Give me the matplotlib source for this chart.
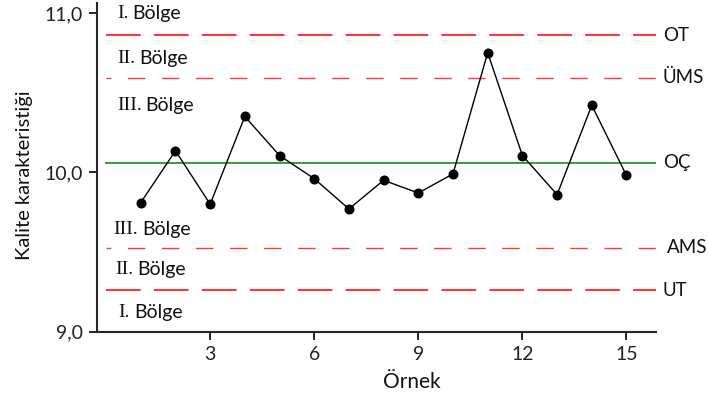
import matplotlib
matplotlib.use("Agg")
import matplotlib.pyplot as plt

plt.rcParams['lines.scale_dashes'] = False

# Sample measurements
samples = list(range(1, 16))
values = [9.81, 10.135, 9.80, 10.35, 10.105, 9.96, 9.77, 9.95, 9.87,
          9.99, 10.75, 10.105, 9.86, 10.42, 9.98]

# Control limits
center = 10.06
ucl, lcl = 10.86, 9.26
uwl, lwl = 10.593, 9.527
limit_names = ["OT", "ÜMS", "OÇ", "AMS", "UT"]

xticks = [3, 6, 9, 12, 15]
yticks = [9.0, 10.0, 11.0]
ytick_labels = ["9,0", "10,0", "11,0"]

zone_numerals = ["I.", "II.", "III.", "III.", "II.", "I."]
zone_word = "Bölge"
zone_y = [10.966, 10.684, 10.391, 9.613, 9.362, 9.094]
zone_x = [0.31, 0.31, 0.31, 0.21, 0.26, 0.355]

sans = "Lato"
serif = "Liberation Serif"
dark = "#262626"
ink = "#111111"

fig = plt.figure(figsize=(7.08, 4.05), dpi=100)
ax = fig.add_axes([0.1366, 0.181, 0.7894, 0.8116])
x0, x1 = -0.27, 15.84
ax.set_xlim(x0, x1)
ax.set_ylim(9.0, 11.062)

red = "#ff3838"
line_x = [0.0, x1]
ax.plot(line_x, [ucl, ucl], color=red, lw=1.5, linestyle=(0, (25, 9.5)))
ax.plot(line_x, [lcl, lcl], color=red, lw=1.5, linestyle=(0, (25, 9.5)))
ax.plot(line_x, [uwl, uwl], color=red, lw=1.0, linestyle=(9, (12.5, 12)))
ax.plot(line_x, [lwl, lwl], color=red, lw=1.0, linestyle=(9, (12.5, 12)))
ax.plot(line_x, [center, center], color="#3a9a3a", lw=1.4)

ax.plot(samples, values, color="black", lw=1.0, marker="o", ms=6.2, zorder=5)

# Limit names to the right of the plot
for name, yv in zip(limit_names, [ucl, uwl, center, lwl, lcl]):
    ax.text(1.013 if name != "AMS" else 1.021, yv, name,
            transform=ax.get_yaxis_transform(), va="center", ha="left",
            fontsize=13.5, family=sans, color=ink, clip_on=False)

# Zone labels: numeral in serif, word in sans
for num, xv, yv in zip(zone_numerals, zone_x, zone_y):
    t = ax.text(xv, yv, num, family=serif, fontsize=14,
                va="baseline", ha="left", color=ink)
    ax.annotate(zone_word, xy=(1, 0), xycoords=t, xytext=(3, 0),
                textcoords="offset points", family=sans, fontsize=14,
                va="bottom", ha="left", color=ink)

ax.set_xticks(xticks)
ax.set_xticklabels([str(v) for v in xticks])
ax.set_yticks(yticks)
ax.set_yticklabels(ytick_labels)
ax.tick_params(axis="both", direction="out", length=6, width=1.4,
               color=dark, labelsize=14, labelcolor="#222222", pad=4)
for lab in ax.get_xticklabels() + ax.get_yticklabels():
    lab.set_family(sans)

for side in ("top", "right"):
    ax.spines[side].set_visible(False)
for side in ("left", "bottom"):
    ax.spines[side].set_linewidth(1.5)
    ax.spines[side].set_color(dark)

ax.set_xlabel("Örnek", family=sans, fontsize=15, color=ink, labelpad=7)
ax.xaxis.label.set_x(0.5635)
ax.set_ylabel("Kalite karakteristiği", family=sans, fontsize=14.5, color=ink)
ax.yaxis.set_label_coords(-0.114, 0.477)

fig.savefig("out.png", dpi=100)
